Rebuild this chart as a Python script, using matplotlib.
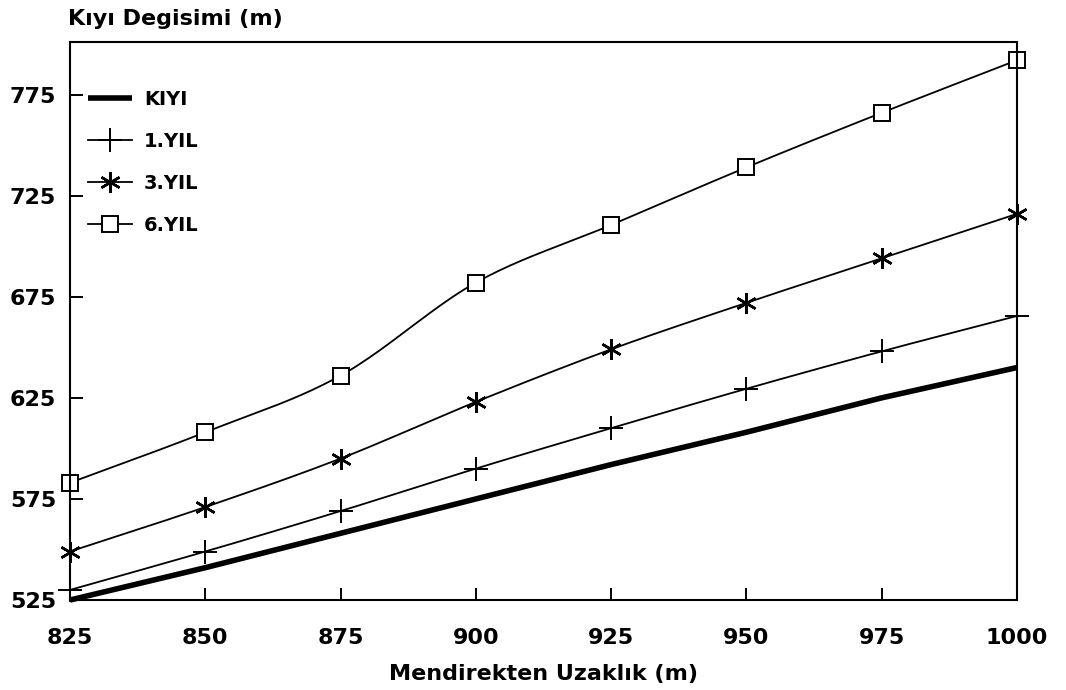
import numpy as np
import matplotlib.pyplot as plt

# shoreline position vs distance from breakwater
mesafe = [825, 850, 875, 900, 925, 950, 975, 1000]
kiyi = [525, 541, 558, 575, 592, 608, 625, 640]
yil_1 = [530, 549, 569, 590, 610, 629.5, 648, 665.5]
yil_3 = [549, 571, 595, 623, 649, 672, 694, 716]
yil_6 = [583, 608, 636, 682, 710.5, 739, 766, 792]

x_ticks = [825, 850, 875, 900, 925, 950, 975, 1000]
y_ticks = [525, 575, 625, 675, 725, 775]


def smooth(x, y, n=24):
    # cubic hermite curve through the points, returns dense x/y plus marker indices
    x = np.asarray(x, float)
    y = np.asarray(y, float)
    m = np.empty_like(y)
    m[1:-1] = (y[2:] - y[:-2]) / (x[2:] - x[:-2])
    m[0] = (y[1] - y[0]) / (x[1] - x[0])
    m[-1] = (y[-1] - y[-2]) / (x[-1] - x[-2])
    xs, ys = [], []
    for i in range(len(x) - 1):
        h = x[i + 1] - x[i]
        t = np.linspace(0, 1, n, endpoint=False)
        h00 = 2 * t**3 - 3 * t**2 + 1
        h10 = t**3 - 2 * t**2 + t
        h01 = -2 * t**3 + 3 * t**2
        h11 = t**3 - t**2
        xs.append(x[i] + t * h)
        ys.append(h00 * y[i] + h10 * h * m[i] + h01 * y[i + 1] + h11 * h * m[i + 1])
    xs.append([x[-1]])
    ys.append([y[-1]])
    return np.concatenate(xs), np.concatenate(ys), list(range(0, n * (len(x) - 1) + 1, n))


plt.rcParams['font.family'] = 'DejaVu Sans'
plt.rcParams['font.weight'] = 'bold'

fig = plt.figure(figsize=(10.66, 6.9), dpi=100)
ax = fig.add_axes([0.0657, 0.1304, 0.8883, 0.8087])

ax.plot(mesafe, kiyi, color='black', lw=4.0, solid_capstyle='butt', label='KIYI', clip_on=False)

sx, sy, idx = smooth(mesafe, yil_1)
ax.plot(sx, sy, color='black', lw=1.3, marker='+', markersize=17, markeredgewidth=1.4,
        markevery=idx, label='1.YIL', clip_on=False)

sx, sy, idx = smooth(mesafe, yil_3)
ax.plot(sx, sy, color='black', lw=1.3, marker=(6, 2, 0), markersize=15, markeredgewidth=1.8,
        markevery=idx, label='3.YIL', clip_on=False)

sx, sy, idx = smooth(mesafe, yil_6)
ax.plot(sx, sy, color='black', lw=1.3, marker='s', markersize=11, markerfacecolor='white',
        markeredgewidth=1.4, markevery=idx, label='6.YIL', clip_on=False)

ax.set_xlim(825, 1000)
ax.set_ylim(525, 801)
ax.set_xticks(x_ticks)
ax.set_yticks(y_ticks)
ax.tick_params(direction='in', length=9, width=1.4, labelsize=16)
ax.tick_params(axis='x', pad=20)
ax.tick_params(axis='y', pad=10)
for s in ax.spines.values():
    s.set_linewidth(1.5)

ax.set_xlabel('Mendirekten Uzaklık (m)', fontsize=16, fontweight='bold', labelpad=12)
fig.text(0.064, 0.958, 'Kıyı Degisimi (m)', fontsize=16, fontweight='bold', ha='left', va='bottom')

ax.legend(loc='upper left', bbox_to_anchor=(0.0, 0.945), frameon=False,
          handlelength=2.3, handletextpad=0.6, labelspacing=1.18, numpoints=1,
          prop={'weight': 'bold', 'size': 14})

fig.savefig('out.png', dpi=100)
